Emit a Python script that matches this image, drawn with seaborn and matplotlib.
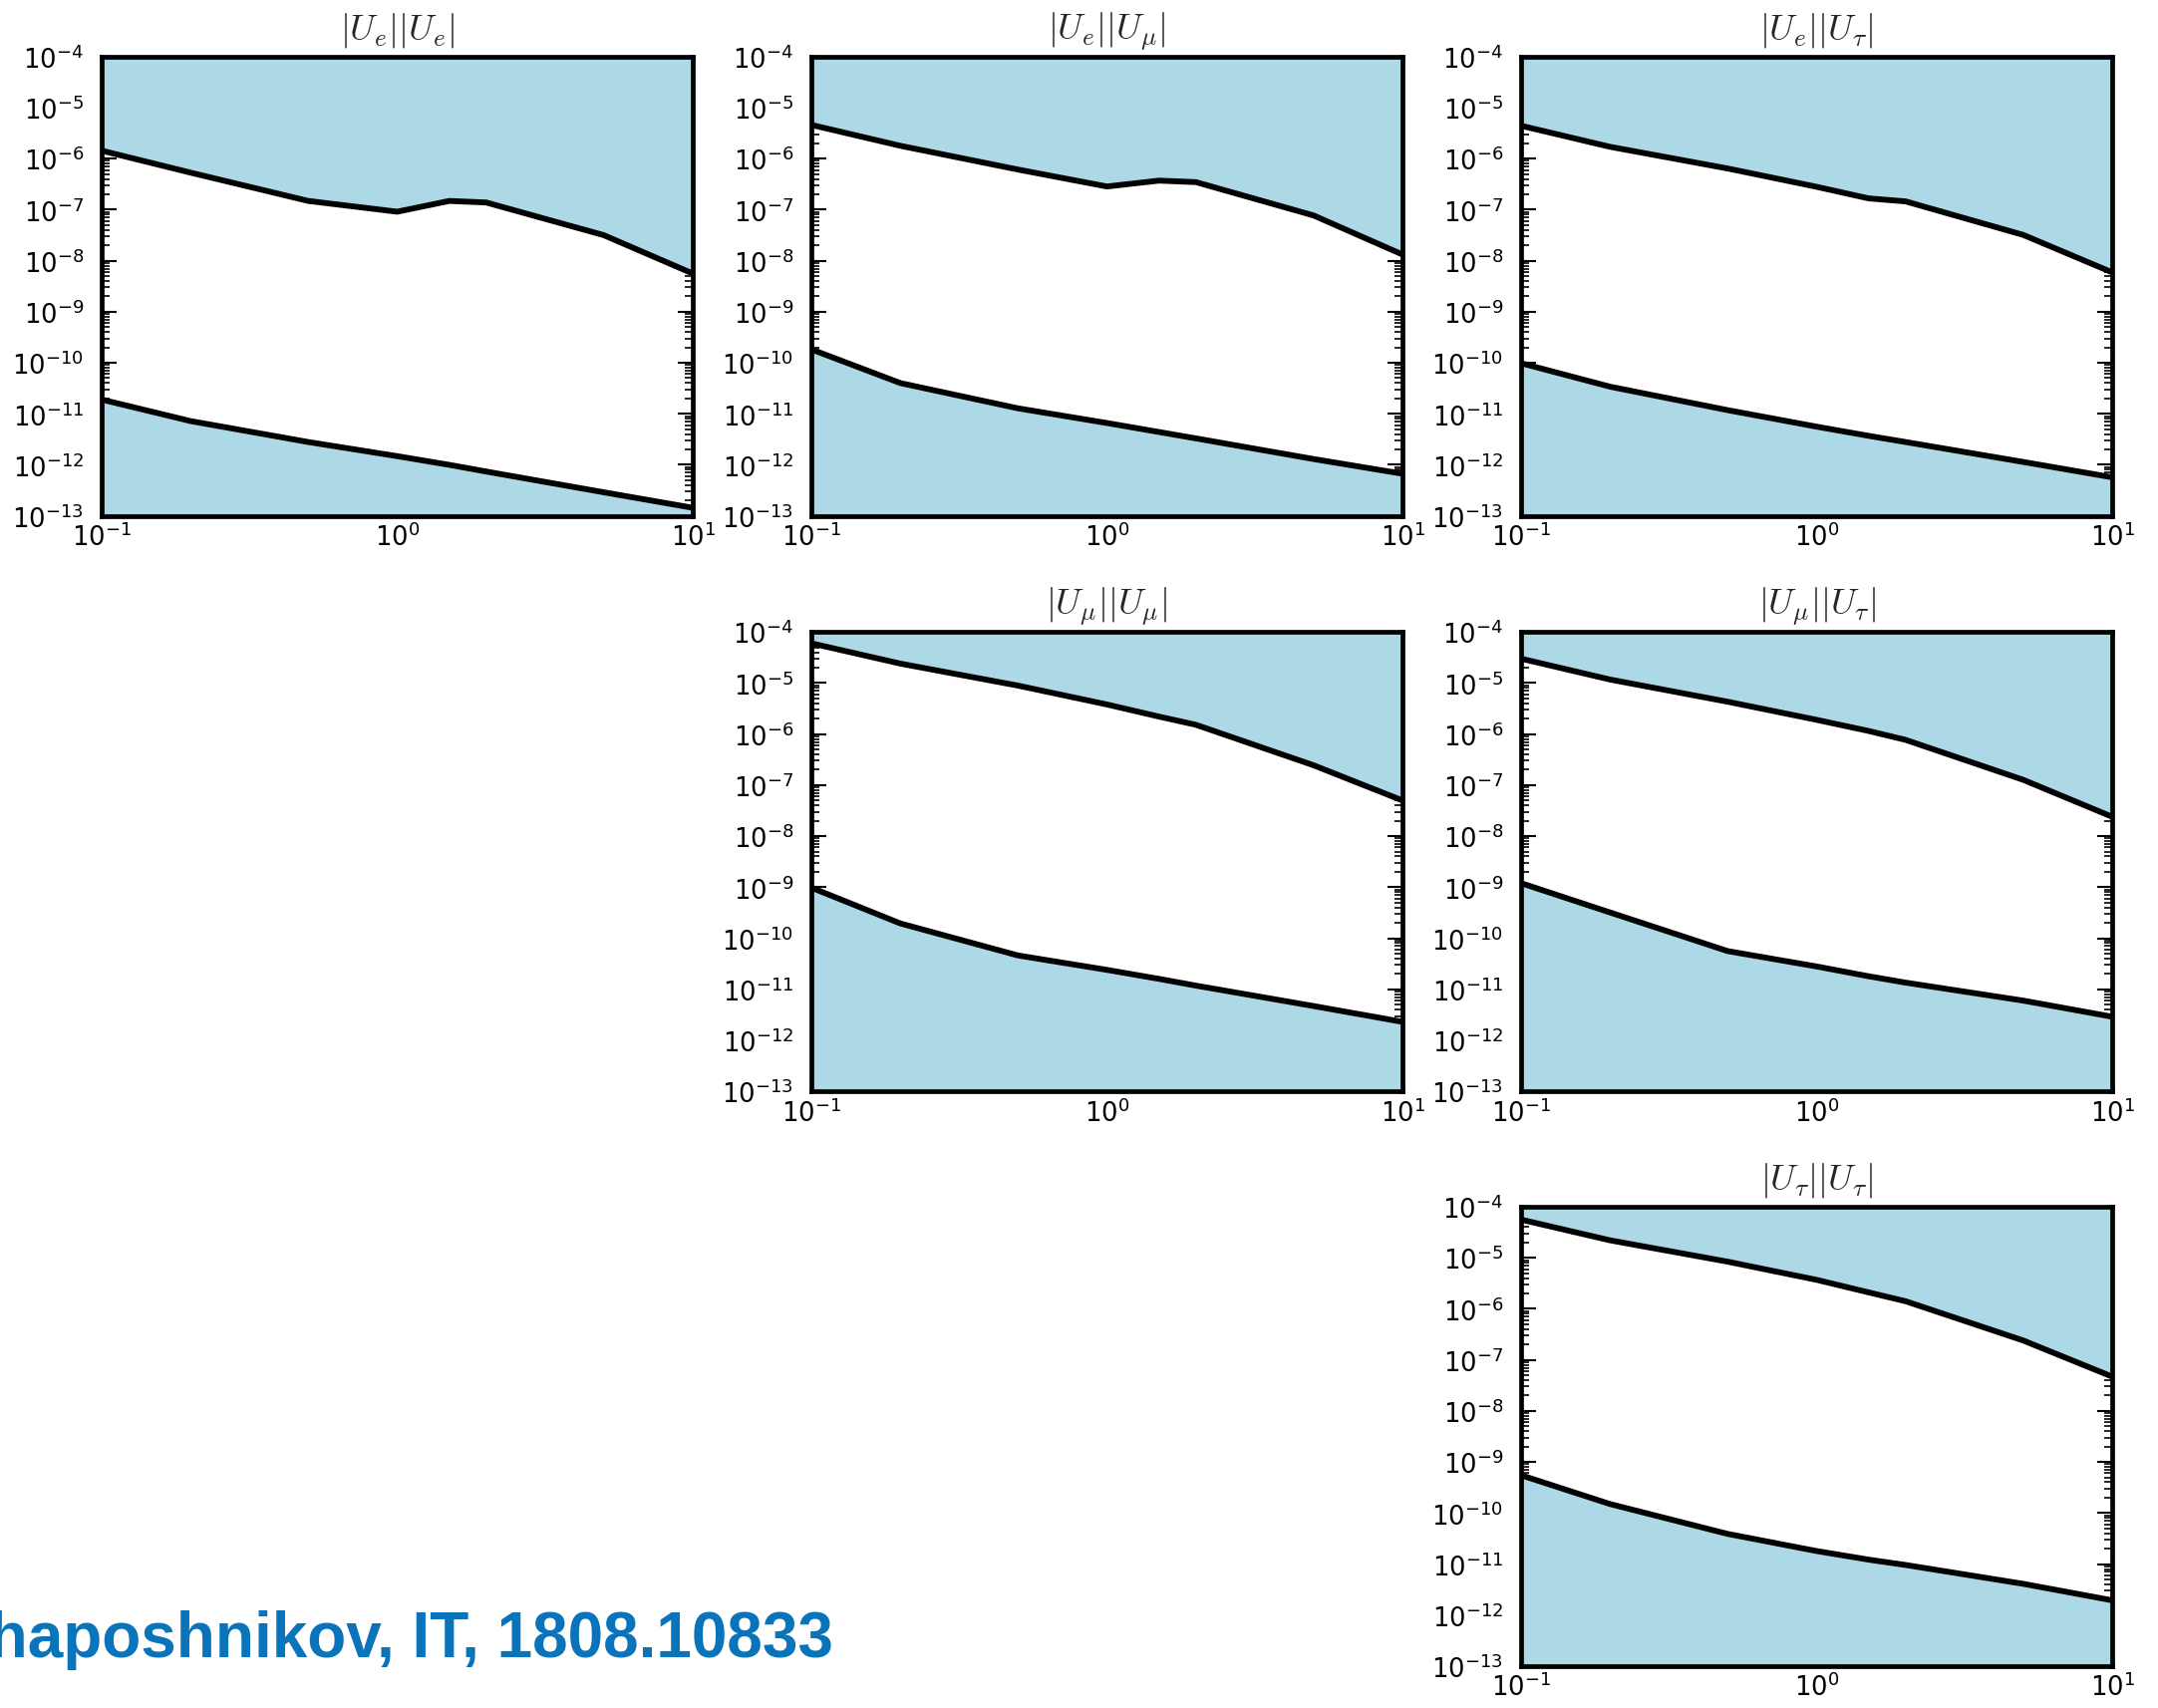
import numpy as np
import pandas as pd
import matplotlib
matplotlib.use("Agg")
import matplotlib.pyplot as plt
import seaborn as sns
from matplotlib.ticker import LogLocator, NullFormatter

# ---------------- data ----------------
mass = [0.1, 0.2, 0.5, 1.0, 1.5, 2.0, 5.0, 10.0]

ee_upper = [1.43e-6, 5.3e-7, 1.48e-7, 9.1e-8, 1.48e-7, 1.38e-7, 3.16e-8, 5.6e-9]
ee_lower = [1.9e-11, 7.2e-12, 2.8e-12, 1.48e-12, 1.0e-12, 7.4e-13, 2.9e-13, 1.44e-13]

emu_upper = [4.57e-6, 1.78e-6, 6.1e-7, 2.84e-7, 3.7e-7, 3.46e-7, 7.7e-8, 1.32e-8]
emu_lower = [1.83e-10, 4.0e-11, 1.28e-11, 6.6e-12, 4.4e-12, 3.3e-12, 1.3e-12, 6.7e-13]

etau_upper = [4.4e-6, 1.7e-6, 6.4e-7, 2.8e-7, 1.66e-7, 1.45e-7, 3.2e-8, 5.9e-9]
etau_lower = [9.8e-11, 3.4e-11, 1.18e-11, 5.6e-12, 3.7e-12, 2.8e-12, 1.14e-12, 5.7e-13]

mumu_upper = [6.0e-5, 2.4e-5, 8.9e-6, 3.8e-6, 2.2e-6, 1.52e-6, 2.45e-7, 5.0e-8]
mumu_lower = [9.8e-10, 1.95e-10, 4.6e-11, 2.4e-11, 1.6e-11, 1.18e-11, 4.7e-12, 2.3e-12]

mutau_upper = [3.0e-5, 1.17e-5, 4.3e-6, 1.9e-6, 1.15e-6, 7.7e-7, 1.27e-7, 2.4e-8]
mutau_lower = [1.2e-9, 3.2e-10, 5.6e-11, 2.8e-11, 1.8e-11, 1.35e-11, 6.0e-12, 2.9e-12]

tautau_upper = [5.6e-5, 2.2e-5, 8.4e-6, 3.7e-6, 2.1e-6, 1.41e-6, 2.4e-7, 4.7e-8]
tautau_lower = [5.5e-10, 1.5e-10, 3.9e-11, 1.8e-11, 1.22e-11, 9.6e-12, 4.1e-12, 1.95e-12]

titles = [r"$|U_e||U_e|$", r"$|U_e||U_\mu|$", r"$|U_e||U_\tau|$",
          r"$|U_\mu||U_\mu|$", r"$|U_\mu||U_\tau|$", r"$|U_\tau||U_\tau|$"]

caption = "Shaposhnikov, IT, 1808.10833"

# ---------------- style ----------------
sns.set_style("white")
plt.rcParams.update({
    "font.family": ["DejaVu Sans"],
    "mathtext.fontset": "cm",
    "axes.unicode_minus": False,
    "axes.linewidth": 3.4,
    "axes.edgecolor": "black",
})

W, H = 2165, 1715
fig = plt.figure(figsize=(W / 100, H / 100), dpi=100)

aw, ah = 593, 461
lefts = [102, 814, 1526]
bottoms_px = [518.7, 1096.2, 1673]
layout = [(0, 0), (0, 1), (0, 2), (1, 1), (1, 2), (2, 2)]

series = [(ee_upper, ee_lower), (emu_upper, emu_lower), (etau_upper, etau_lower),
          (mumu_upper, mumu_lower), (mutau_upper, mutau_lower), (tautau_upper, tautau_lower)]

ymin, ymax = 1e-13, 1e-4
fill_col = "#ADD8E6"

for (row, col), (up, lo), title in zip(layout, series, titles):
    ax = fig.add_axes([lefts[col] / W, 1 - bottoms_px[row] / H, aw / W, ah / H])
    df = pd.DataFrame({"m": mass, "upper": up, "lower": lo})
    ax.set_xscale("log")
    ax.set_yscale("log")
    ax.fill_between(df["m"], df["upper"], ymax, color=fill_col, lw=0, zorder=1)
    ax.fill_between(df["m"], ymin, df["lower"], color=fill_col, lw=0, zorder=1)
    sns.lineplot(data=df, x="m", y="upper", color="black", lw=4.2, ax=ax, zorder=3)
    sns.lineplot(data=df, x="m", y="lower", color="black", lw=4.2, ax=ax, zorder=3)
    ax.set_xlim(0.1, 10)
    ax.set_ylim(ymin, ymax)
    ax.set_xlabel("")
    ax.set_ylabel("")
    ax.yaxis.set_major_locator(LogLocator(base=10, numticks=20))
    ax.yaxis.set_minor_locator(LogLocator(base=10, subs=np.arange(2, 10), numticks=20))
    ax.xaxis.set_major_locator(LogLocator(base=10, numticks=20))
    ax.xaxis.set_minor_locator(LogLocator(base=10, subs=np.arange(2, 10), numticks=20))
    ax.yaxis.set_minor_formatter(NullFormatter())
    ax.xaxis.set_minor_formatter(NullFormatter())
    ax.tick_params(which="both", direction="in", top=True, right=True,
                   bottom=True, left=True, colors="black", zorder=6)
    ax.tick_params(which="major", length=11, width=1.5, labelsize=18.5)
    ax.tick_params(which="minor", length=5.5, width=1.2)
    ax.tick_params(axis="y", which="major", pad=13)
    ax.tick_params(axis="x", which="major", pad=5)
    ax.set_title(title, fontsize=26, pad=13)
    for s in ax.spines.values():
        s.set_zorder(5)

fig.text(836 / W, 1 - 1663 / H, caption, ha="right", va="baseline",
         fontsize=46, fontweight="bold", family=["Liberation Sans", "DejaVu Sans"],
         color="#0a74ba")

fig.savefig("out.png", dpi=100)
